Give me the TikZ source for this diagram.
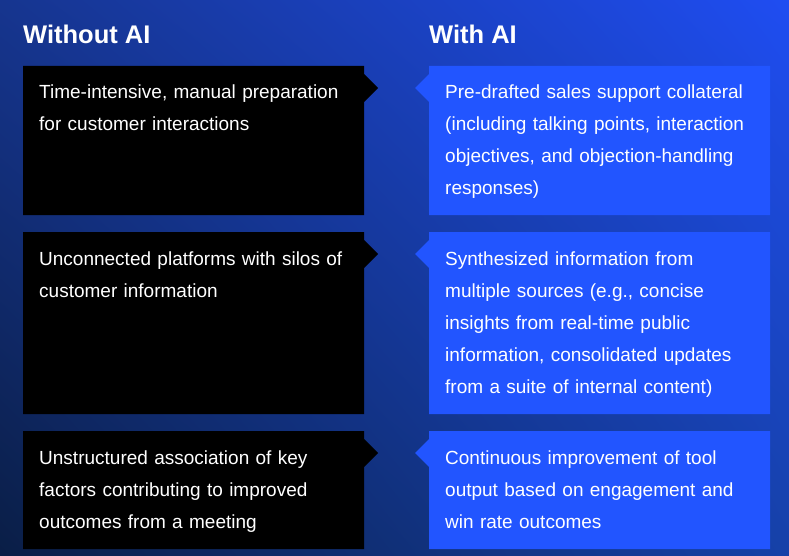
\documentclass[tikz,border=0pt]{standalone}
\usepackage{fontspec}
\setmainfont{Liberation Sans}
\usetikzlibrary{shadings}
\definecolor{bgUL}{HTML}{16358F}
\definecolor{bgUR}{HTML}{1F4DF2}
\definecolor{bgLL}{HTML}{0A1E46}
\definecolor{bgLR}{HTML}{1641A8}
\definecolor{aiblue}{HTML}{2255FF}
\tikzset{
  title/.style={anchor=base west, inner sep=0pt, text=white, font=\fontsize{25.5}{30}\selectfont\bfseries},
  celltext/.style={anchor=base west, inner sep=0pt, text=white, text width=340pt, align=left,
    font=\fontsize{19}{32}\selectfont},
  leftbox/.style={fill=black},
  rightbox/.style={fill=aiblue},
}
\begin{document}
\begin{tikzpicture}[x=1pt,y=-1pt]
\useasboundingbox (0,0) rectangle (789,556);
\shade[upper left=bgUL, upper right=bgUR, lower left=bgLL, lower right=bgLR] (0,0) rectangle (789,556);

\node[title] (tl) at (23,44) {Without AI};
\node[title] (tr) at (429,44) {With AI};

% rows: top, bottom
\foreach \t/\b in {66/215, 232/414, 431/549}{
  \fill[leftbox] (23,\t) -- (364,\t) -- (364,\t+8) -- (378,\t+22) -- (364,\t+36) -- (364,\b) -- (23,\b) -- cycle;
  \fill[rightbox] (429,\t) -- (770,\t) -- (770,\b) -- (429,\b) -- (429,\t+36) -- (415,\t+22) -- (429,\t+8) -- cycle;
}

\node[celltext] (l1) at (39,99) {Time-intensive, manual preparation\\for customer interactions};
\node[celltext] (r1) at (445,99) {Pre-drafted sales support collateral\\(including talking points, interaction\\objectives, and objection-handling\\responses)};
\node[celltext] (l2) at (39,265) {Unconnected platforms with silos of\\customer information};
\node[celltext] (r2) at (445,265) {Synthesized information from\\multiple sources (e.g., concise\\insights from real-time public\\information, consolidated updates\\from a suite of internal content)};
\node[celltext] (l3) at (39,464) {Unstructured association of key\\factors contributing to improved\\outcomes from a meeting};
\node[celltext] (r3) at (445,464) {Continuous improvement of tool\\output based on engagement and\\win rate outcomes};
\end{tikzpicture}
\end{document}
